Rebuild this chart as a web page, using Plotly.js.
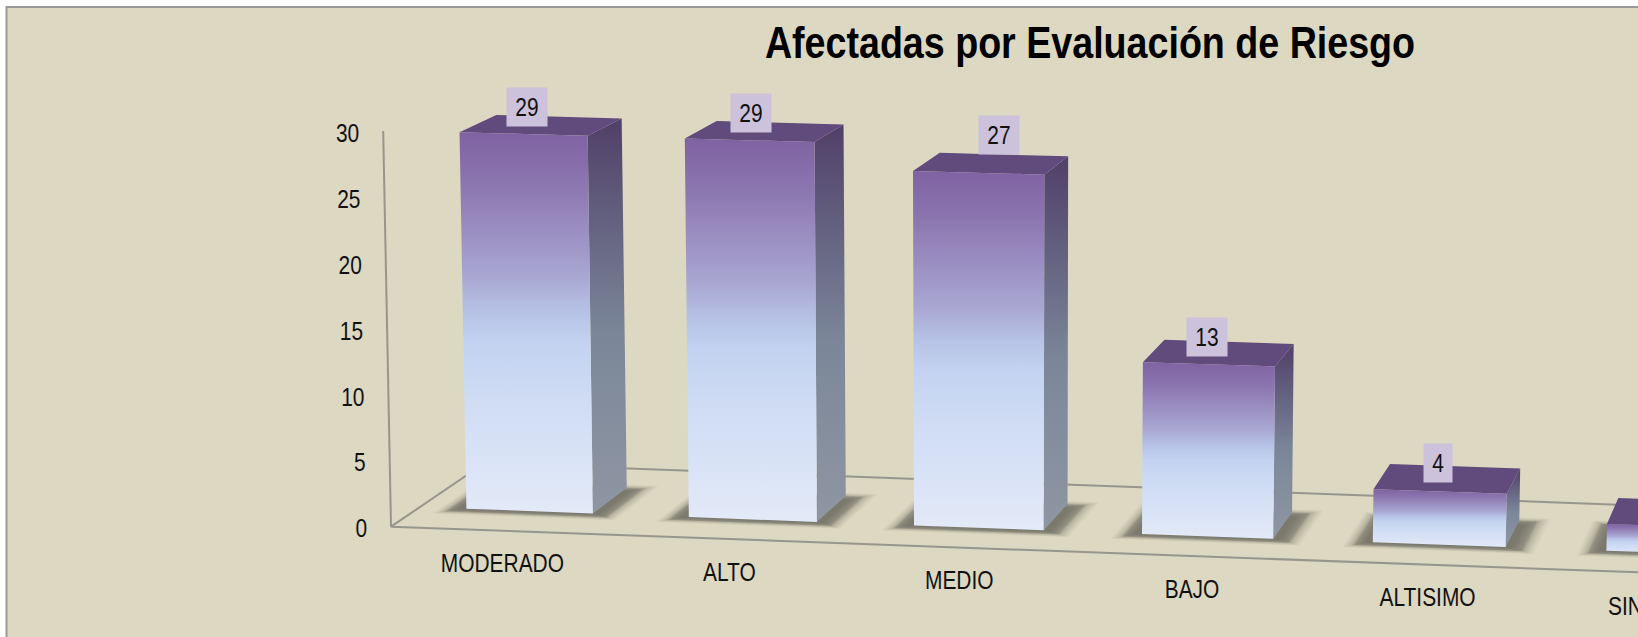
<!DOCTYPE html>
<html>
<head>
<meta charset="utf-8">
<script src="https://cdn.plot.ly/plotly-3.0.1.min.js"></script>
<style>html,body{margin:0;padding:0;background:#fff;overflow:hidden}#c{width:1638px;height:637px}</style>
</head>
<body>
<div id="c"></div>
<script>
// ---- data ----
const categories = ['MODERADO', 'ALTO', 'MEDIO', 'BAJO', 'ALTISIMO', 'SIN RIESGO'];
const values = [29, 29, 27, 13, 4, 2];
const valueTicks = [0, 5, 10, 15, 20, 25, 30];
const chartTitle = 'Afectadas por Evaluación de Riesgo';

// ---- style ----
const FONT = '"Liberation Sans",Arial,sans-serif';
const TEXT_SIZE = 25.5, TEXT_SQUEEZE = 0.82, TITLE_SQUEEZE = 0.855;
const BG = '#DDD8C1';
const frontScale = [[0, '#E3EAF8'], [0.3, '#CFDCF4'], [0.45, '#C2D2F0'], [0.53, '#B6C2E5'], [0.62, '#A9A7D2'], [0.74, '#9B8FC2'], [0.87, '#8B75AF'], [1, '#7F62A2']];
const sideScale = [[0, '#8F96A3'], [0.45, '#7B8799'], [0.65, '#6B6D88'], [1, '#503F68']];
const topColour = '#614A7C';
const axisColour = '#96968C';

// ---- 3-D view of (category position, value, depth) ----
const BAR_W = 0.5705, DEPTH = 0.0222, FLOOR_FRONT = -0.0171, FLOOR_BACK = 0.0379, C_LEFT = -0.21, C_RIGHT = 6.2;
function project(c, v, t) {
  const xb = 466.4 + 221 * c + 1.4 * c * c, yb = 508.7 + 8.4 * c;
  const rise = (12.98 + 0.075 * c) * v;
  const x = xb + (xb - 995) * rise / 29000, y = yb - rise;
  return [x + t * (2117 - x), y + t * (-648 - y)];
}
const toX = px => (px - 391) / 221, toY = py => (526.7 - py) / 13.2;
function poly(pts) { // pts of [c,v,t]
  const p = pts.map(q => project(q[0], q[1], q[2]));
  return { x: p.map(q => toX(q[0])), y: p.map(q => toY(q[1])) };
}
const base = { type: 'scatter', mode: 'lines', hoverinfo: 'skip', showlegend: false };
const traces = [];

// floor and value axis
function line(pts) { traces.push(Object.assign({}, base, poly(pts), { line: { color: axisColour, width: 2 } })); }
line([[C_RIGHT, 0, FLOOR_BACK], [C_LEFT, 0, FLOOR_BACK], [C_LEFT, 0, FLOOR_FRONT], [C_RIGHT, 0, FLOOR_FRONT]]);
line([[C_LEFT, 0, FLOOR_FRONT], [C_LEFT, 30, FLOOR_FRONT]]);

// soft floor shadows: stacked translucent layers, denser mid-way so the edge fades softly
const LAYERS = 24;
for (let k = 0; k < LAYERS; k++) {
  const s0 = 2 * k / (LAYERS - 1) - 1;
  const f = 0.5 - 0.5 * Math.sign(s0) * Math.pow(Math.abs(s0), 1.7); // 1 = outer, 0 = inner
  const xs = [], ys = [];
  values.forEach((v, i) => {
    const l = i - 0.03 - 0.085 * f, r = i + BAR_W + 0.03 + 0.1 * f;
    const n = -0.0005 - 0.0045 * f, b = DEPTH - 0.003 + 0.0055 * f;
    const s = poly([[l, 0, n], [r, 0, n], [r, 0, b], [l, 0, b], [l, 0, n]]);
    xs.push(...s.x, null); ys.push(...s.y, null);
  });
  traces.push(Object.assign({}, base, { x: xs, y: ys, fill: 'toself', fillcolor: 'rgba(50,50,40,0.028)', line: { width: 0 } }));
}

// bars
values.forEach((v, i) => {
  const l = i, r = i + BAR_W;
  const face = (pts, extra) => traces.push(Object.assign({}, base, poly(pts), { fill: 'toself', line: { width: 0 } }, extra));
  face([[r, 0, 0], [r, 0, DEPTH], [r, v, DEPTH], [r, v, 0], [r, 0, 0]], { fillgradient: { type: 'vertical', colorscale: sideScale } });
  face([[l, v, 0], [r, v, 0], [r, v, DEPTH], [l, v, DEPTH], [l, v, 0]], { fillcolor: topColour });
  face([[l, 0, 0], [r, 0, 0], [r, v, 0], [l, v, 0], [l, 0, 0]], { fillgradient: { type: 'vertical', colorscale: frontScale } });
});

// value axis tick labels
const tickPts = valueTicks.map(v => project(C_LEFT, v, FLOOR_FRONT));
traces.push(Object.assign({}, base, {
  mode: 'text', x: tickPts.map(p => toX(p[0] - 24)), y: tickPts.map(p => toY(p[1] + 4.3)),
  text: valueTicks.map(String), textposition: 'middle left', textfont: { family: FONT, size: TEXT_SIZE, color: '#111' }
}));

// category labels
const catPts = categories.map((c, i) => project(i + BAR_W / 2, 0, FLOOR_FRONT));
const catNudge = [0, 0, 0, 0, 0, 3];
traces.push(Object.assign({}, base, {
  mode: 'text', x: catPts.map((p, i) => toX(p[0] + catNudge[i])), y: catPts.map(p => toY(p[1] + 35)),
  text: categories, textposition: 'middle center', textfont: { family: FONT, size: TEXT_SIZE, color: '#111' }
}));

// value labels
const labelNudge = [[3, 0], [1, 0], [20, -10.7], [-1.5, 0], [-2, -1], [0, 0]];
const annotations = values.map((v, i) => {
  const a = project(i, v, 0), b = project(i + BAR_W, v, 0);
  return {
    xref: 'x', yref: 'y', showarrow: false, xanchor: 'center', yanchor: 'middle',
    x: toX((a[0] + b[0]) / 2 + labelNudge[i][0]), y: toY((a[1] + b[1]) / 2 - 27 + labelNudge[i][1]),
    text: String(v), width: String(v).length > 1 ? 40 : 28, height: 38, borderpad: 0,
    bgcolor: '#CCC2DC', font: { family: FONT, size: TEXT_SIZE, color: '#111' }
  };
});

const W = 1638, H = 637;
const layout = {
  width: W, height: H, margin: { l: 0, r: 0, t: 0, b: 0, pad: 0 },
  paper_bgcolor: '#FFFFFF', plot_bgcolor: 'rgba(0,0,0,0)', showlegend: false,
  title: { text: chartTitle, x: 1090 / W, xref: 'paper', xanchor: 'center', y: 1 - 43 / H, yref: 'paper', yanchor: 'middle',
    font: { family: FONT, size: 44, color: '#000', weight: 'bold' } },
  xaxis: { visible: false, range: [toX(0), toX(W)], fixedrange: true },
  yaxis: { visible: false, range: [toY(H), toY(0)], fixedrange: true },
  shapes: [{ type: 'rect', xref: 'paper', yref: 'paper', layer: 'below', x0: 6.5 / W, x1: 1.1, y0: -0.1, y1: 1 - 7 / H,
    fillcolor: BG, line: { color: '#9A9A9A', width: 2 } }],
  annotations: annotations
};
Plotly.newPlot('c', traces, layout, { staticPlot: true, displayModeBar: false }).then(() => {
  // the reference type is a narrow face: squeeze the real text horizontally
  document.querySelectorAll('#c svg text').forEach(t => {
    const len = t.getComputedTextLength();
    if (!len) return;
    const squeeze = t.closest('.g-gtitle') ? TITLE_SQUEEZE : TEXT_SQUEEZE;
    t.setAttribute('textLength', (len * squeeze).toFixed(2));
    t.setAttribute('lengthAdjust', 'spacingAndGlyphs');
  });
});
</script>
</body>
</html>
